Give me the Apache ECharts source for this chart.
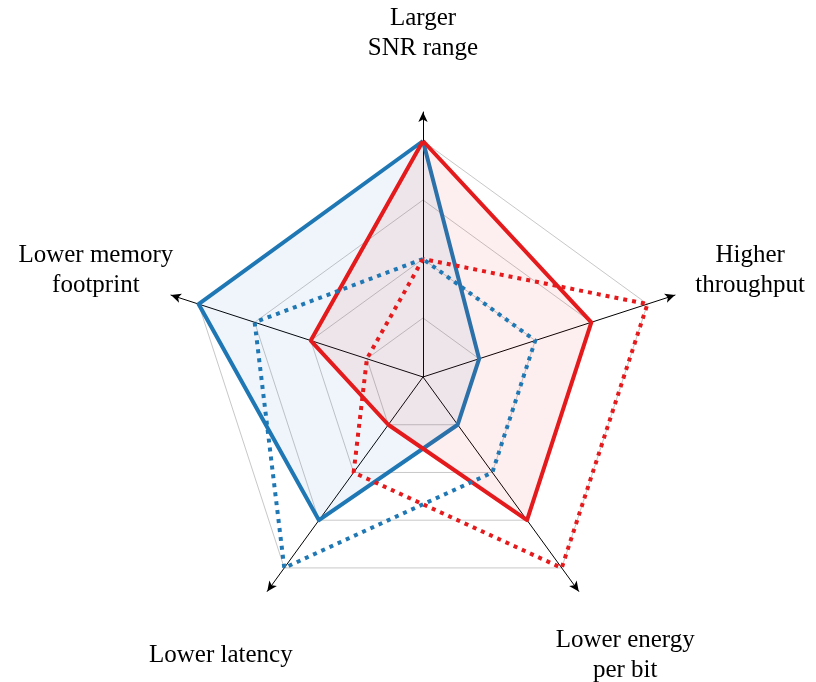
<!DOCTYPE html>
<html>
<head>
<meta charset="utf-8">
<script src="https://cdn.jsdelivr.net/npm/echarts@6/dist/echarts.min.js"></script>
<style>
html,body{margin:0;padding:0;background:#fff;}
#radar{width:816px;height:682px;}
</style>
</head>
<body>
<div id="radar"></div>
<script>
// 指标名（从顶部开始，逆时针）
var indicatorNames = ['Larger\nSNR range', 'Lower memory\nfootprint', 'Lower latency', 'Lower energy\nper bit', 'Higher\nthroughput'];
var maxValue = 4;
// 各系列数值，顺序同上
var blueSolid = [4, 4, 3, 1, 1];
var blueDotted = [2, 3, 4, 2, 2];
var redSolid = [4, 2, 1, 3, 3];
var redDotted = [2, 1, 2, 4, 4];

var blue = '#1f78b4';
var red = '#e41a1c';
var serif = '"Liberation Serif", "DejaVu Serif", serif';

var myChart = echarts.init(document.getElementById('radar'));

var indicator = [];
for (var i = 0; i < indicatorNames.length; i++) {
    indicator.push({ name: indicatorNames[i], min: 0, max: maxValue });
}

var option = {
    backgroundColor: '#fff',
    animation: false,
    radar: [{
        // 网格和数据
        center: [423, 377],
        radius: 236,
        startAngle: 90,
        shape: 'polygon',
        splitNumber: 4,
        indicator: indicator,
        axisName: { show: false },
        axisLine: { show: false },
        axisTick: { show: false },
        axisLabel: { show: false },
        splitLine: { lineStyle: { color: '#c8c8c8', width: 1 } },
        splitArea: { show: false }
    }, {
        // 坐标轴箭头和名称
        center: [423, 377],
        radius: 265,
        startAngle: 90,
        shape: 'polygon',
        splitNumber: 1,
        indicator: indicator,
        nameGap: 79,
        axisName: {
            color: '#000',
            fontFamily: serif,
            fontSize: 25,
            lineHeight: 30,
            align: 'center',
            verticalAlign: 'middle'
        },
        axisLine: {
            lineStyle: { color: '#000', width: 1 },
            symbol: ['none', 'arrow'],
            symbolSize: [7, 10]
        },
        axisTick: { show: false },
        axisLabel: { show: false },
        splitLine: { show: false },
        splitArea: { show: false }
    }],
    series: [{
        type: 'radar',
        radarIndex: 0,
        symbol: 'none',
        data: [{
            value: blueSolid,
            lineStyle: { color: blue, width: 4 },
            areaStyle: { color: blue, opacity: 0.07 }
        }, {
            value: redSolid,
            lineStyle: { color: red, width: 4 },
            areaStyle: { color: red, opacity: 0.07 }
        }, {
            value: blueDotted,
            lineStyle: { color: blue, width: 4, type: [4, 5] }
        }, {
            value: redDotted,
            lineStyle: { color: red, width: 4, type: [4, 5] }
        }]
    }]
};
myChart.setOption(option);
</script>
</body>
</html>
